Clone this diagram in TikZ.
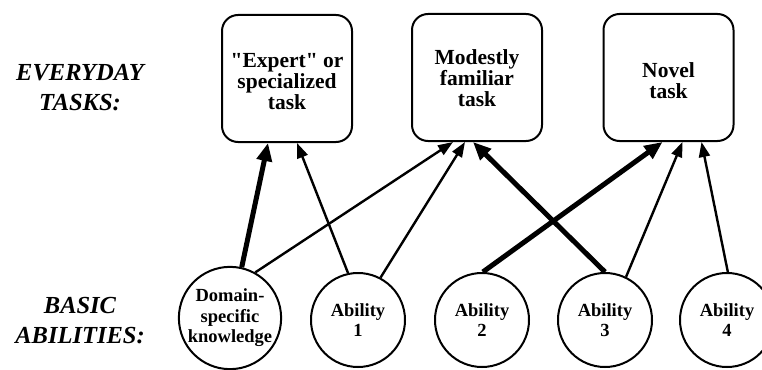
\documentclass[tikz,border=0pt]{standalone}
\usepackage{fontspec}
\setmainfont{Liberation Serif}[Ligatures=TeXOff]
\usetikzlibrary{arrows.meta}
\tikzset{
  taskbox/.style={draw, line width=2pt, rounded corners=16pt, minimum width=130pt, minimum height=127pt, inner sep=0pt},
  tasktext/.style={align=center, inner sep=0pt, font=\fontsize{21.5}{21}\selectfont\bfseries},
  ability/.style={draw, circle, line width=2pt, minimum size=94pt, inner sep=0pt, align=center,
    font=\fontsize{18.5}{20.5}\selectfont\bfseries},
  rowlabel/.style={align=center, font=\fontsize{24.5}{30}\selectfont\bfseries\itshape},
  thin/.style={line width=2.4pt, -{Triangle[length=15pt,width=11pt]}},
  thick/.style={line width=5pt, -{Triangle[length=18pt,width=15pt]}},
}
\begin{document}
\begin{tikzpicture}[x=1pt,y=-1pt]
\useasboundingbox (0,0) rectangle (762,369);
\node[rowlabel] (lt) at (80,88) {EVERYDAY\\TASKS:};
\node[rowlabel] (lb) at (80,321) {BASIC\\ABILITIES:};

\node[taskbox] (t1) at (287,78.5) {};
\node[taskbox] (t2) at (477,77.5) {};
\node[taskbox] (t3) at (668.5,77.5) {};
\node[tasktext] (t1x) at ([yshift=-3pt]t1.center) {"Expert" or\\specialized\\task};
\node[tasktext] (t2x) at ([yshift=-1pt]t2.center) {Modestly\\familiar\\task};
\node[tasktext] (t3x) at ([yshift=-3pt]t3.center) {Novel\\task};

\node[ability, minimum size=90pt] (dk) at (230,318) {Domain-\\specific\\knowledge};
\node[ability] (a1) at (358,320) {Ability\\1};
\node[ability] (a2) at (482,320) {Ability\\2};
\node[ability] (a3) at (605,320) {Ability\\3};
\node[ability] (a4) at (727,320) {Ability\\4};

\draw[thick] (dk.77) -- ([xshift=-19pt]t1.south);
\draw[thin] (a1.102) -- ([xshift=10pt]t1.south);
\draw[thin] (dk.61) -- ([xshift=-24pt]t2.south);
\draw[thin] (a1.62) -- ([xshift=-12pt]t2.south);
\draw[thick] (a3.90) -- ([xshift=-4pt]t2.south);
\draw[thick] (a2.89) -- ([xshift=-6pt]t3.south);
\draw[thin] (a3.64) -- ([xshift=14pt]t3.south);
\draw[thin] (a4.89) -- ([xshift=33pt]t3.south);
\end{tikzpicture}
\end{document}
